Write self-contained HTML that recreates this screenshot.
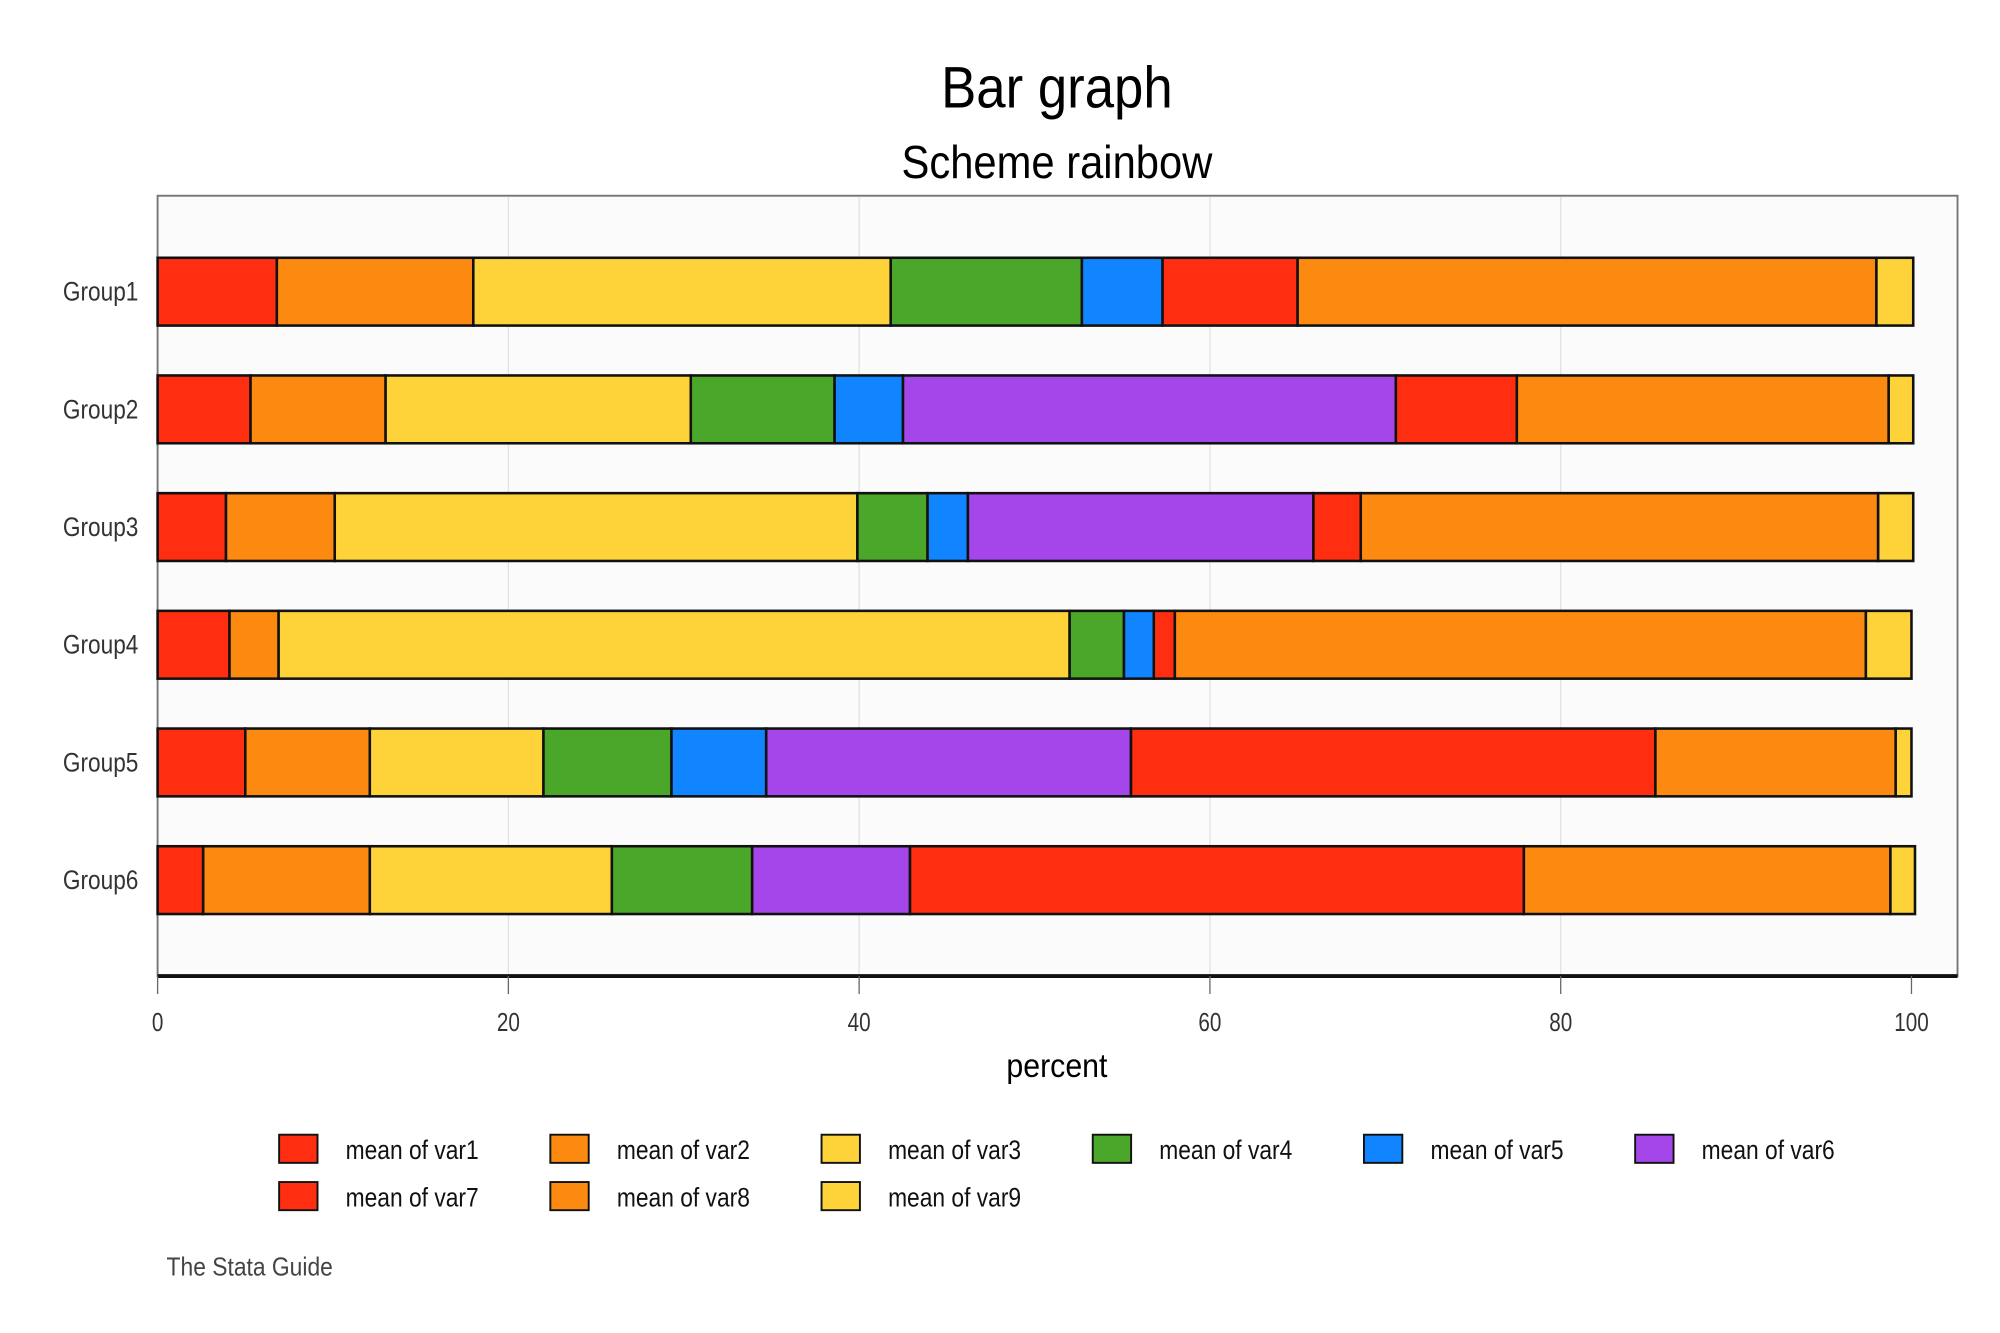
<!DOCTYPE html>
<html><head><meta charset="utf-8"><style>
html,body{margin:0;padding:0;background:#fff}
svg{display:block}
text{font-family:"Liberation Sans Narrow","Liberation Sans",sans-serif}
</style></head><body>
<svg id="chart" width="2000" height="1333" viewBox="0 0 1563 1042" xmlns="http://www.w3.org/2000/svg">
<rect width="1563" height="1042" fill="#fff"/>
<text x="826" y="84" font-size="46" text-anchor="middle" fill="#000" textLength="181" lengthAdjust="spacingAndGlyphs">Bar graph</text>
<text x="826" y="139" font-size="36" text-anchor="middle" fill="#000" textLength="243" lengthAdjust="spacingAndGlyphs">Scheme rainbow</text>
<rect x="123" y="153" width="1407" height="610" fill="#fbfbfb" stroke="#777" stroke-width="1.5"/>
<g id="grid"></g>
<g id="bars"></g>
<line x1="123" y1="763" x2="1530" y2="763" stroke="#111" stroke-width="3"/>
<g id="xticks"></g>
<text x="826" y="842" font-size="26" text-anchor="middle" fill="#000" textLength="79" lengthAdjust="spacingAndGlyphs">percent</text>
<g id="legend"></g>
<text x="130" y="997" font-size="20" fill="#444" textLength="130" lengthAdjust="spacingAndGlyphs">The Stata Guide</text>
</svg>
<script>
const groups = ["Group1","Group2","Group3","Group4","Group5","Group6"];
const seriesNames = ["mean of var1","mean of var2","mean of var3","mean of var4","mean of var5","mean of var6","mean of var7","mean of var8","mean of var9"];
const var1 = [6.8, 5.3, 3.9, 4.1, 5.0, 2.6];
const var2 = [11.2, 7.7, 6.2, 2.8, 7.1, 9.5];
const var3 = [23.8, 17.4, 29.8, 45.1, 9.9, 13.8];
const var4 = [10.9, 8.2, 4.0, 3.1, 7.3, 8.0];
const var5 = [4.6, 3.9, 2.3, 1.7, 5.4, 0];
const var6 = [0, 28.1, 19.7, 0, 20.8, 9.0];
const var7 = [7.7, 6.9, 2.7, 1.2, 29.9, 35.0];
const var8 = [33.0, 21.2, 29.5, 39.4, 13.7, 20.9];
const var9 = [2.1, 1.4, 2.0, 2.6, 0.9, 1.4];
const xTicks = [0, 20, 40, 60, 80, 100];
const colors = ["#ff2e10","#fd8a10","#fed33a","#4aa72a","#1185ff","#a546ea","#ff2e10","#fd8a10","#fed33a"];

const series = [var1,var2,var3,var4,var5,var6,var7,var8,var9];
const NS = "http://www.w3.org/2000/svg";
function xs(v){ return 123 + v * (1494 - 123) / 100; }
function yc(i){ return 228 + i * 92; }
function mk(tag, attrs, parent){
  const e = document.createElementNS(NS, tag);
  for (const k in attrs) e.setAttribute(k, attrs[k]);
  parent.appendChild(e); return e;
}
const grid = document.getElementById("grid");
const xt = document.getElementById("xticks");
xTicks.forEach(t => {
  if (t > 0 && t < 100) {
    const g = mk("line", {x1: xs(t), x2: xs(t), y1: 154, y2: 762, stroke: "#e2e2e2", "stroke-width": 1}, grid);
    
    
  }
  const tk = mk("line", {x1: xs(t), x2: xs(t), y1: 763, y2: 777, stroke: "#666", "stroke-width": 1}, xt);
  
  
  const s = String(t);
  const tl = mk("text", {x: xs(t), y: 806, "font-size": 20, "text-anchor": "middle", fill: "#333", textLength: s.length * 9, lengthAdjust: "spacingAndGlyphs"}, xt);
  tl.textContent = s;
  
  
});
const bars = document.getElementById("bars");
groups.forEach((g, i) => {
  const lab = mk("text", {x: 108, y: yc(i) + 7, "font-size": 21, "text-anchor": "end", fill: "#333", textLength: 59, lengthAdjust: "spacingAndGlyphs"}, bars);
  lab.textContent = g;
  
  
  let cum = 0;
  series.forEach((s, j) => {
    const v = s[i];
    const r = mk("rect", {x: xs(cum), y: yc(i) - 26.5, width: Math.max(0, xs(cum + v) - xs(cum)), height: 53, fill: colors[j], stroke: "#111", "stroke-width": 2}, bars);
    
    
    cum += v;
  });
});
const leg = document.getElementById("legend");
seriesNames.forEach((n, j) => {
  const col = j % 6, row = Math.floor(j / 6);
  const x = 218 + col * 212, y = 887 + row * 37;
  const sw = mk("rect", {x: x, y: y, width: 30, height: 22, fill: colors[j], stroke: "#111", "stroke-width": 1.5}, leg);
  
  
  const t = mk("text", {x: x + 52, y: y + 19, "font-size": 21, fill: "#111", textLength: 104, lengthAdjust: "spacingAndGlyphs"}, leg);
  t.textContent = n;
  
  
});
</script>
</body></html>
